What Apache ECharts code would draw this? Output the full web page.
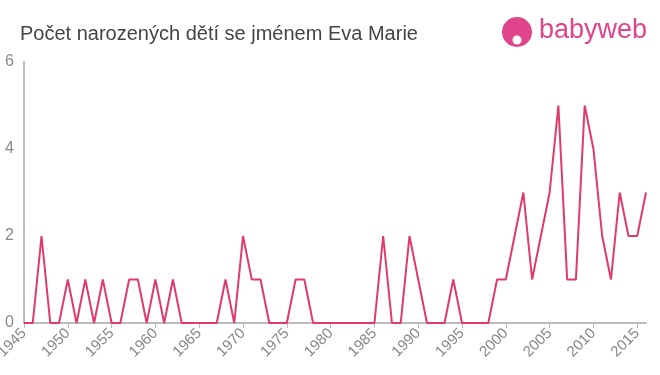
<!DOCTYPE html>
<html><head><meta charset="utf-8">
<script src="https://cdn.jsdelivr.net/npm/echarts@6/dist/echarts.min.js"></script>
<style>html,body{margin:0;padding:0;background:#fff}#c{width:660px;height:375px}</style>
</head><body><div id="c"></div>
<script>
const years = [];
for (let y = 1945; y <= 2016; y++) years.push(y);
const values = [0,0,2,0,0,1,0,1,0,1,0,0,1,1,0,1,0,1,0,0,0,0,0,1,0,2,1,1,0,0,0,1,1,0,0,0,0,0,0,0,0,2,0,0,2,1,0,0,0,1,0,0,0,0,1,1,2,3,1,2,3,5,1,1,5,4,2,1,3,2,2,3];
const yTicks = [0,2,4,6];
const title = 'Počet narozených dětí se jménem Eva Marie';
const F = 'Liberation Sans, Arial, sans-serif';
const chart = echarts.init(document.getElementById('c'));
chart.setOption({
  animation:false,
  title:{text:title,left:15,top:19,textStyle:{fontFamily:F,fontSize:20,fontWeight:'normal',color:'#444'}},
  graphic:[
    {type:'circle',shape:{cx:517,cy:32,r:15},style:{fill:'#e0448b'}},
    {type:'circle',shape:{cx:517,cy:40,r:4.5},style:{fill:'#fff'}},
    {type:'text',left:539,top:17,style:{text:'babyweb',fontFamily:F,fontSize:27,fill:'#e0448b'}}
  ],
  grid:{left:24,right:14,top:62,bottom:52,outerBoundsMode:'none',containLabel:false},
  xAxis:{type:'value',min:1945,max:2016,interval:5,
    axisLine:{lineStyle:{color:'#bbb',width:2}},
    axisTick:{show:true,lineStyle:{color:'#bbb'}},
    splitLine:{show:false},
    axisLabel:{rotate:45,color:'#888',fontSize:15,fontFamily:F,margin:8,formatter:v=>String(v)}},
  yAxis:{type:'value',min:0,max:6,interval:2,
    axisLine:{show:true,lineStyle:{color:'#bbb',width:2}},
    axisTick:{show:false},
    splitLine:{show:false},
    axisLabel:{color:'#888',fontSize:16,fontFamily:F,margin:10}},
  series:[{type:'line',data:years.map((y,i)=>[y,values[i]]),showSymbol:false,
    lineStyle:{color:'#e03a6b',width:2},itemStyle:{color:'#e03a6b'}}]
});
</script></body></html>
